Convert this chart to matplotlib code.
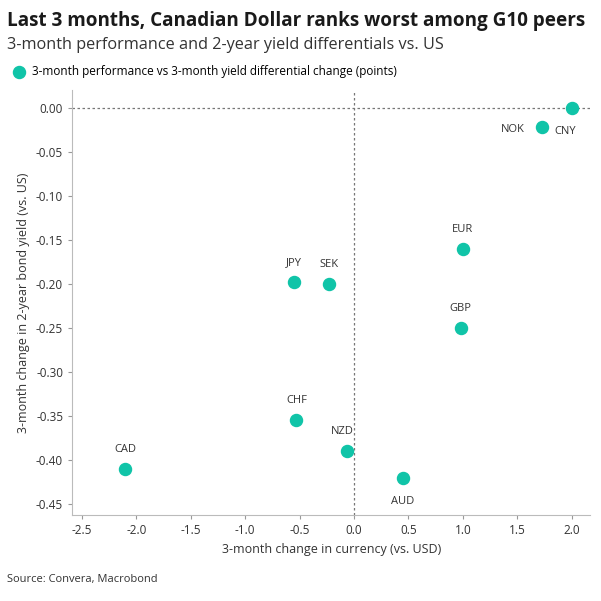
import matplotlib
matplotlib.use("Agg")
import matplotlib.pyplot as plt

plt.rcParams['font.family'] = ['Open Sans', 'DejaVu Sans']

currencies = ['CNY', 'NOK', 'EUR', 'GBP', 'JPY', 'SEK', 'CHF', 'NZD', 'AUD', 'CAD']
perf = [2.0, 1.73, 1.0, 0.98, -0.55, -0.23, -0.53, -0.06, 0.45, -2.1]
yield_chg = [0.0, -0.022, -0.16, -0.25, -0.198, -0.2, -0.355, -0.39, -0.42, -0.41]
# label offsets in points (dx, dy)
offsets = {'CNY': (-5, -17), 'NOK': (-21, -2), 'AUD': (0, -17), 'NZD': (-4, 14)}

fig = plt.figure(figsize=(6.01, 6.01), dpi=100)
ax = fig.add_axes([0.12, 0.143, 0.862, 0.707])
teal = '#10c4a8'
ax.scatter(perf, yield_chg, s=75, color=teal, zorder=3,
           label='3-month performance vs 3-month yield differential change (points)')
for c, x, y in zip(currencies, perf, yield_chg):
    dx, dy = offsets.get(c, (0, 14))
    ax.annotate(c, (x, y), xytext=(dx, dy), textcoords='offset points',
                ha='center', va='center', fontsize=8, color='#333333')

ax.axhline(0, color='#777777', lw=0.9, ls=(0, (2, 2)), zorder=1)
ax.axvline(0, color='#777777', lw=0.9, ls=(0, (2, 2)), zorder=1)
ax.set_xlim(-2.59, 2.17)
ax.set_ylim(-0.4625, 0.02)
ax.set_xticks([-2.5, -2.0, -1.5, -1.0, -0.5, 0.0, 0.5, 1.0, 1.5, 2.0])
ax.set_yticks([0.0, -0.05, -0.1, -0.15, -0.2, -0.25, -0.3, -0.35, -0.4, -0.45])
ax.xaxis.set_major_formatter(matplotlib.ticker.FormatStrFormatter('%.1f'))
ax.yaxis.set_major_formatter(matplotlib.ticker.FormatStrFormatter('%.2f'))
ax.tick_params(labelsize=8.5, colors='#333333', length=3, color='#999999')
for s in ['top', 'right']:
    ax.spines[s].set_visible(False)
for s in ['left', 'bottom']:
    ax.spines[s].set_color('#bbbbbb')
ax.set_xlabel('3-month change in currency (vs. USD)', fontsize=9, color='#333333')
ax.set_ylabel('3-month change in 2-year bond yield (vs. US)', fontsize=9, color='#333333')

ax.legend(loc='upper left', bbox_to_anchor=(-0.135, 1.07), frameon=False, fontsize=8.5,
          handletextpad=0.1, borderaxespad=0, markerscale=1.0)
fig.text(0.012, 0.965, 'Last 3 months, Canadian Dollar ranks worst among G10 peers',
         fontsize=13.6, fontweight='bold', color='#1a1a1a', va='center')
fig.text(0.012, 0.925, '3-month performance and 2-year yield differentials vs. US',
         fontsize=11.7, color='#333333', va='center')
fig.text(0.012, 0.035, 'Source: Convera, Macrobond', fontsize=8, color='#333333', va='center')
fig.savefig('out.png', dpi=100)
